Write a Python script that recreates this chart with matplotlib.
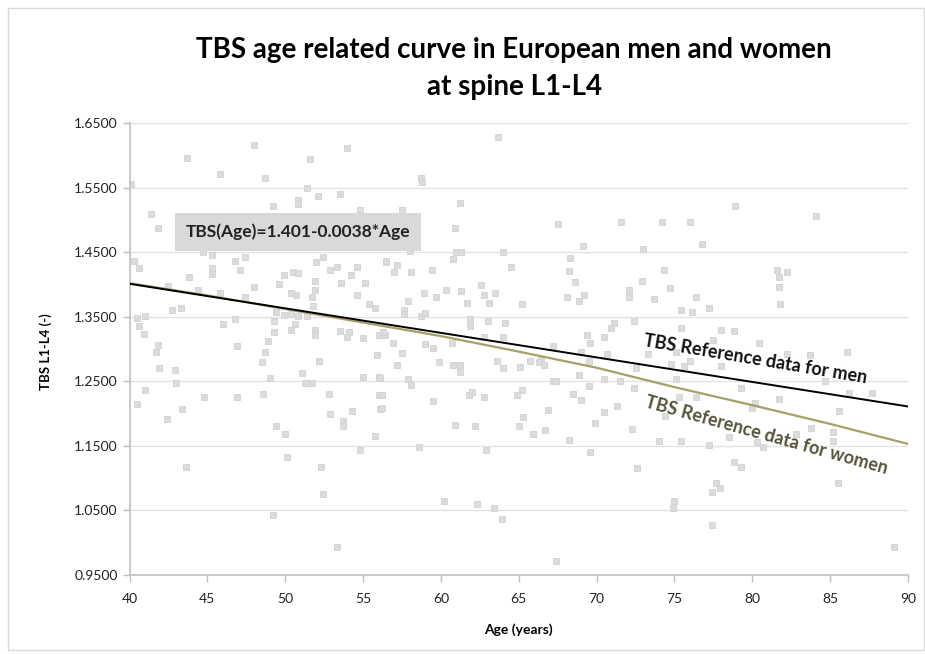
import matplotlib
matplotlib.use('Agg')
import matplotlib.pyplot as plt
import matplotlib.patches as patches
import numpy as np

plt.rcParams['font.family'] = ['Lato', 'DejaVu Sans']

# scatter of individual TBS values (age, TBS)
age = [48.0, 54.0, 43.7, 51.6, 45.8, 48.7, 40.1, 51.4, 52.1, 53.5, 50.8, 50.8, 49.2, 54.8, 41.4, 41.8,
       40.3, 40.6, 44.7, 45.3, 46.8, 47.4, 45.3, 45.3, 47.1, 43.8, 49.9, 50.5, 50.8, 52.0, 52.4, 52.9,
       53.3, 54.6, 56.5, 54.2, 48.0, 49.6, 51.9, 51.9, 53.6, 55.1, 42.5, 44.4, 45.8, 47.4, 50.4, 50.7,
       51.7, 54.6, 42.7, 43.3, 55.4, 55.8, 51.8, 49.4, 49.9, 50.4, 50.8, 51.4, 40.5, 41.0, 40.6, 40.9,
       46.0, 46.8, 49.3, 50.6, 49.3, 50.4, 51.9, 51.9, 53.5, 54.1, 54.0, 55.0, 56.0, 56.4, 41.8, 41.7,
       46.9, 48.9, 48.7, 52.2, 55.9, 48.5,
       63.7, 58.7, 58.8, 61.2, 57.5, 67.5, 71.6, 60.9, 58.0, 61.0, 61.3, 60.8, 64.0, 69.1, 73.0, 68.3,
       56.5, 57.2, 57.0, 58.1, 59.4, 64.5, 68.2, 68.6, 72.9, 62.6, 60.3, 61.3, 58.9, 59.7, 62.8, 63.5,
       61.7, 63.1, 65.2, 68.1, 68.9, 69.2, 72.1, 72.1, 57.9, 57.6, 57.6, 58.7, 59.0, 61.9, 63.0, 64.1,
       61.9, 71.1, 70.9, 72.4, 69.4, 69.6, 70.5, 56.3, 56.9, 59.0, 59.5, 60.7, 57.5, 62.8, 64.0, 67.2,
       66.4, 63.6, 69.0, 70.7, 65.7,
       78.9, 84.1, 74.2, 76.0, 76.8, 74.3, 81.6, 82.2, 81.7, 81.7, 81.8, 74.7, 73.7, 76.4, 75.4, 76.1,
       77.2, 75.4, 78.0, 78.8, 77.5, 80.4, 82.2, 83.7, 86.1, 73.3, 75.1,
       41.9, 42.9, 43.0, 41.0, 40.5, 42.4, 43.4, 44.8, 46.9, 48.6, 49.0, 51.1, 51.3, 51.7, 52.2, 49.4,
       50.0, 50.1, 52.8, 52.9, 53.7, 53.7, 54.3, 55.0, 56.0, 56.0, 56.1, 55.8, 54.8, 43.6, 52.3, 52.4,
       49.2, 53.3,
       57.2, 59.9, 60.8, 61.2, 61.2, 64.0, 65.1, 66.3, 66.6, 57.9, 58.1, 56.1, 56.2, 56.2, 59.5, 61.8,
       62.0, 62.8, 64.9, 65.2, 67.2, 67.4, 68.9, 69.5, 70.5, 71.5, 72.4, 68.5, 69.0, 66.9, 65.3, 65.0,
       65.9, 66.7, 60.9, 62.2, 69.9, 70.5, 71.3, 72.3, 68.2, 58.6, 62.9, 69.6, 72.6, 60.2, 62.3, 63.4,
       63.9, 67.4, 69.5, 72.5,
       74.8, 75.6, 76.0, 78.0, 75.1, 74.4, 75.3, 76.4, 79.3, 80.2, 80.0, 81.7, 84.7, 86.2, 87.7, 85.6,
       83.8, 85.2, 85.2, 82.8, 74.0, 75.4, 77.2, 78.5, 80.3, 80.7, 78.8, 79.3, 77.7, 77.9, 77.4, 85.5,
       75.0, 74.9, 77.4, 89.1]
tbs = [1.616, 1.611, 1.596, 1.594, 1.571, 1.565, 1.556, 1.549, 1.537, 1.540, 1.531, 1.525, 1.522, 1.515, 1.509, 1.487,
       1.437, 1.425, 1.450, 1.445, 1.437, 1.442, 1.425, 1.416, 1.422, 1.411, 1.414, 1.420, 1.417, 1.434, 1.442, 1.423,
       1.427, 1.427, 1.435, 1.414, 1.396, 1.401, 1.405, 1.392, 1.402, 1.402, 1.397, 1.391, 1.387, 1.380, 1.386, 1.383,
       1.380, 1.384, 1.360, 1.364, 1.369, 1.364, 1.366, 1.358, 1.353, 1.354, 1.351, 1.351, 1.348, 1.351, 1.335, 1.323,
       1.338, 1.347, 1.344, 1.339, 1.327, 1.330, 1.330, 1.322, 1.328, 1.327, 1.319, 1.317, 1.322, 1.322, 1.306, 1.295,
       1.305, 1.312, 1.296, 1.282, 1.291, 1.280,
       1.629, 1.565, 1.559, 1.526, 1.516, 1.493, 1.496, 1.488, 1.452, 1.450, 1.450, 1.439, 1.450, 1.459, 1.455, 1.441,
       1.436, 1.430, 1.420, 1.419, 1.422, 1.427, 1.421, 1.404, 1.405, 1.399, 1.392, 1.390, 1.386, 1.381, 1.383, 1.387,
       1.372, 1.371, 1.369, 1.381, 1.375, 1.383, 1.392, 1.381, 1.374, 1.361, 1.354, 1.351, 1.355, 1.347, 1.344, 1.340,
       1.336, 1.341, 1.332, 1.343, 1.321, 1.309, 1.318, 1.327, 1.310, 1.308, 1.301, 1.310, 1.294, 1.318, 1.318, 1.304,
       1.284, 1.281, 1.296, 1.292, 1.282,
       1.522, 1.506, 1.497, 1.496, 1.462, 1.423, 1.423, 1.420, 1.411, 1.396, 1.370, 1.394, 1.377, 1.380, 1.361, 1.357,
       1.364, 1.332, 1.330, 1.328, 1.314, 1.309, 1.292, 1.291, 1.295, 1.292, 1.295,
       1.271, 1.267, 1.248, 1.236, 1.215, 1.191, 1.207, 1.225, 1.225, 1.230, 1.255, 1.263, 1.247, 1.247, 1.281, 1.180,
       1.169, 1.133, 1.230, 1.200, 1.189, 1.181, 1.204, 1.257, 1.256, 1.229, 1.207, 1.166, 1.144, 1.117, 1.118, 1.075,
       1.043, 0.993,
       1.275, 1.280, 1.275, 1.275, 1.264, 1.270, 1.272, 1.280, 1.275, 1.254, 1.245, 1.255, 1.229, 1.208, 1.220, 1.229,
       1.233, 1.225, 1.228, 1.236, 1.251, 1.251, 1.259, 1.242, 1.254, 1.251, 1.240, 1.230, 1.221, 1.206, 1.194, 1.180,
       1.169, 1.175, 1.183, 1.180, 1.186, 1.202, 1.212, 1.176, 1.159, 1.149, 1.143, 1.141, 1.116, 1.065, 1.060, 1.053,
       1.036, 0.972, 1.282, 1.270,
       1.277, 1.274, 1.281, 1.273, 1.254, 1.197, 1.225, 1.225, 1.240, 1.217, 1.208, 1.222, 1.251, 1.232, 1.232, 1.204,
       1.178, 1.172, 1.158, 1.169, 1.158, 1.157, 1.151, 1.163, 1.156, 1.148, 1.125, 1.118, 1.092, 1.084, 1.079, 1.092,
       1.065, 1.054, 1.027, 0.993]

# reference curves
men_age = [40, 90]
men_tbs = [1.401, 1.211]
women_age = [40, 45, 50, 55, 60, 65, 70, 75, 80, 85, 90]
women_tbs = [1.402, 1.383, 1.362, 1.341, 1.320, 1.296, 1.271, 1.241, 1.213, 1.184, 1.153]

xticks = [40, 45, 50, 55, 60, 65, 70, 75, 80, 85, 90]
yticks = [0.95, 1.05, 1.15, 1.25, 1.35, 1.45, 1.55, 1.65]

fig = plt.figure(figsize=(9.25, 6.54), dpi=100)
fig.patches.append(patches.Rectangle((0.009, 0.006), 0.99, 0.982, transform=fig.transFigure,
                                     fill=False, edgecolor='#d9d9d9', linewidth=1))
ax = fig.add_axes([0.140, 0.1208, 0.8416, 0.6911])

ax.scatter(age, tbs, marker='s', s=24, facecolor='#dcdcdc', edgecolor='#d2d2d2', linewidth=0.6, zorder=2)
ax.plot(women_age, women_tbs, color='#a89e6a', linewidth=1.6, zorder=3)
ax.plot(men_age, men_tbs, color='black', linewidth=1.4, zorder=4)

ax.set_xlim(40, 90)
ax.set_ylim(0.95, 1.65)
ax.set_xticks(xticks)
ax.set_yticks(yticks)
ax.set_yticklabels(['%.4f' % v for v in yticks])
ax.yaxis.grid(True, color='#e3e3e3', linewidth=1)
ax.set_axisbelow(True)
for s in ['top', 'right']:
    ax.spines[s].set_visible(False)
for s in ['left', 'bottom']:
    ax.spines[s].set_color('#c0c0c0')
    ax.spines[s].set_linewidth(1.2)
ax.tick_params(axis='both', colors='#c0c0c0', labelcolor='#222222', labelsize=10, length=5, width=1)
ax.tick_params(axis='x', pad=8)

ax.text(43.6, 1.481, 'TBS(Age)=1.401-0.0038*Age', fontsize=12.5, fontweight='bold', color='#222222',
        va='center', ha='left',
        bbox=dict(boxstyle='square,pad=0.6', facecolor='#d9d9d9', edgecolor='none'), zorder=5)

ax.text(80.2, 1.284, 'TBS Reference data for men', fontsize=13, fontweight='bold', color='#111111',
        rotation=-9.5, ha='center', va='center', zorder=5)
ax.text(80.9, 1.166, 'TBS Reference data for women', fontsize=13, fontweight='bold', color='#55533a',
        rotation=-15.5, ha='center', va='center', zorder=5)

fig.text(0.556, 0.895, 'TBS age related curve in European men and women\nat spine L1-L4',
         fontsize=20, fontweight='bold', ha='center', va='center', linespacing=1.5)
fig.text(0.049, 0.463, 'TBS L1-L4 (-)', rotation=90, fontsize=9.5, fontweight='bold', ha='center', va='center')
fig.text(0.56, 0.037, 'Age (years)', fontsize=10, fontweight='bold', ha='center', va='center')

fig.savefig('out.png', dpi=100)
